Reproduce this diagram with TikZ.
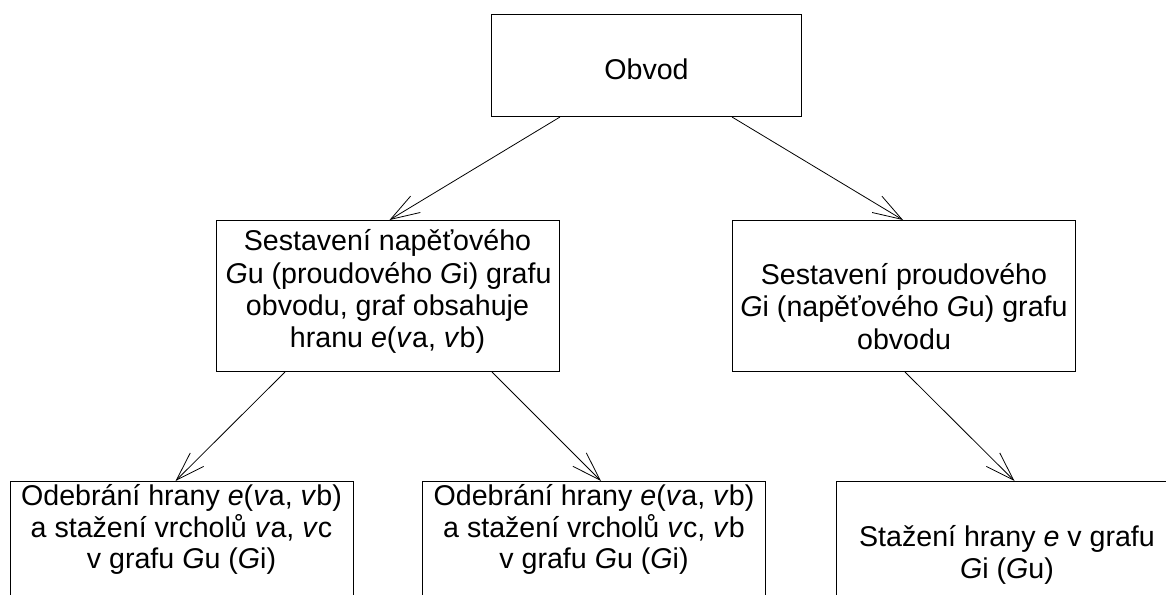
\documentclass[tikz,border=0pt]{standalone}
\usepackage{fontspec}
\setmainfont{Liberation Sans}
\usetikzlibrary{arrows.meta}
\begin{document}
\begin{tikzpicture}[x=1pt,y=-1pt,
  box/.style={draw=black, line width=1pt, rectangle, inner sep=0pt, anchor=north west, minimum width=343pt, minimum height=151pt},
  lbl/.style={anchor=base, inner sep=0pt, font=\fontsize{28.6}{32}\selectfont},
  conn/.style={line width=0.8pt, -{Straight Barb[length=29pt,width=19pt]}}]
\useasboundingbox (0,0) rectangle (1166,594);
\clip (0,0) rectangle (1166,594);
% boxes
\node[box, minimum width=310pt, minimum height=102pt] (obvod) at (491,14) {};
\node[box] (ml) at (216,220) {};
\node[box] (mr) at (732,220) {};
\node[box] (bl) at (10,481) {};
\node[box] (bm) at (422,481) {};
\node[box] (br) at (836,481) {};
% texts
\node[lbl] (t0) at (646.5,79) {Obvod};
\node[lbl] (t1a) at (387.5,250) {Sestavení napěťového};
\node[lbl] (t1b) at (388.5,283) {\textit{G}u (proudového \textit{G}i) grafu};
\node[lbl] (t1c) at (387.5,315) {obvodu, graf obsahuje};
\node[lbl] (t1d) at (387.5,347) {hranu \textit{e}(\textit{v}a, \textit{v}b)};
\node[lbl] (t2a) at (904,284) {Sestavení proudového};
\node[lbl] (t2b) at (904,316) {\textit{G}i (napěťového \textit{G}u) grafu};
\node[lbl] (t2c) at (904,349) {obvodu};
\node[lbl] (t3a) at (181.5,505) {Odebrání hrany \textit{e}(\textit{v}a, \textit{v}b)};
\node[lbl] (t3b) at (181.5,537) {a stažení vrcholů \textit{v}a, \textit{v}c};
\node[lbl] (t3c) at (181.5,568) {v grafu \textit{G}u (\textit{G}i)};
\node[lbl] (t4a) at (594,505) {Odebrání hrany \textit{e}(\textit{v}a, \textit{v}b)};
\node[lbl] (t4b) at (594,537) {a stažení vrcholů \textit{v}c, \textit{v}b};
\node[lbl] (t4c) at (594,568) {v grafu \textit{G}u (\textit{G}i)};
\node[lbl] (t5a) at (1007,546) {Stažení hrany \textit{e} v grafu};
\node[lbl] (t5b) at (1007,578) {\textit{G}i (\textit{G}u)};
% connectors
\draw[conn] ([xshift=69pt]obvod.south west) -- ([xshift=1.5pt]ml.north);
\draw[conn] ([xshift=241pt]obvod.south west) -- ([xshift=-1pt]mr.north);
\draw[conn] ([xshift=69pt]ml.south west) -- ([xshift=-6.5pt]bl.north);
\draw[conn] ([xshift=276pt]ml.south west) -- ([xshift=7pt]bm.north);
\draw[conn] ([xshift=1pt]mr.south) -- ([xshift=6.5pt]br.north);
\end{tikzpicture}
\end{document}
